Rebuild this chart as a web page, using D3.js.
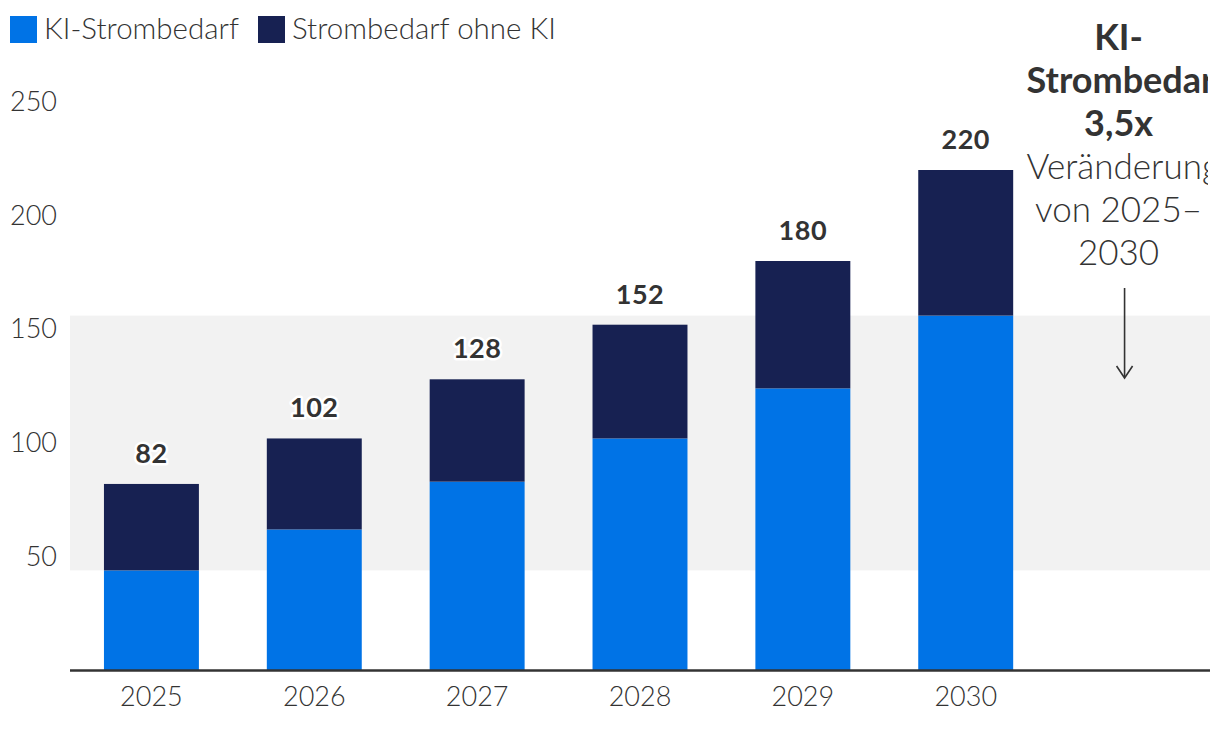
<!DOCTYPE html>
<html>
<head>
<meta charset="utf-8">
<script src="https://d3js.org/d3.v7.min.js"></script>
<style>
  body { margin: 0; background: #fff; }
  svg { display: block; font-family: Lato, "Noto Sans", sans-serif; }
</style>
</head>
<body>
<svg width="1220" height="732"></svg>
<script>
  // values
  var years = ["2025", "2026", "2027", "2028", "2029", "2030"];
  var kiDemand = [44, 62, 83, 102, 124, 156];
  var otherDemand = [38, 40, 45, 50, 56, 64];
  var yTicks = [50, 100, 150, 200, 250];
  var legendLabels = ["KI-Strombedarf", "Strombedarf ohne KI"];
  var noteLines = [
    { text: "KI-", bold: true },
    { text: "Strombedarf", bold: true },
    { text: "3,5x", bold: true },
    { text: "Veränderung", bold: false },
    { text: "von 2025–", bold: false },
    { text: "2030", bold: false }
  ];

  var colors = ["#0073e6", "#172152"];
  var textColor = "#333333";

  var svg = d3.select("svg");

  var rows = years.map(function (y, i) {
    return { year: y, ki: kiDemand[i], other: otherDemand[i] };
  });
  var stack = d3.stack().keys(["ki", "other"])(rows);

  var step = 1140 / 7;
  var x = d3.scaleBand()
    .domain(years)
    .range([70, 70 + step * 6])
    .paddingInner(0.417)
    .paddingOuter(0.2085);

  var y = d3.scaleLinear().domain([0, 250]).range([670.5, 101.75]);

  // grey band between KI demand 2025 and 2030
  svg.append("rect")
    .attr("x", 70)
    .attr("width", 1140)
    .attr("y", y(kiDemand[kiDemand.length - 1]))
    .attr("height", y(kiDemand[0]) - y(kiDemand[kiDemand.length - 1]))
    .attr("fill", "#f2f2f2");

  // bars
  svg.append("g").selectAll("g")
    .data(stack)
    .join("g")
    .attr("fill", function (d, i) { return colors[i]; })
    .selectAll("rect")
    .data(function (d) { return d; })
    .join("rect")
    .attr("x", function (d) { return x(d.data.year); })
    .attr("width", x.bandwidth())
    .attr("y", function (d) { return y(d[1]); })
    .attr("height", function (d) { return y(d[0]) - y(d[1]); });

  // totals
  svg.append("g").selectAll("text")
    .data(rows)
    .join("text")
    .attr("x", function (d) { return x(d.year) + x.bandwidth() / 2; })
    .attr("y", function (d) { return y(d.ki + d.other) - 21; })
    .attr("text-anchor", "middle")
    .attr("font-size", 27)
    .attr("font-weight", 700)
    .attr("letter-spacing", 0.5)
    .attr("fill", textColor)
    .attr("stroke", "#fff")
    .attr("stroke-width", 5)
    .attr("stroke-linejoin", "round")
    .attr("paint-order", "stroke")
    .text(function (d) { return d.ki + d.other; });

  // x axis
  var xAxis = svg.append("g")
    .attr("transform", "translate(0," + y(0) + ")")
    .call(d3.axisBottom(x).tickSize(0).tickPadding(16))
    .attr("font-family", null).attr("font-size", null);
  xAxis.select(".domain").remove();
  xAxis.append("line")
    .attr("x1", 70).attr("x2", 1210)
    .attr("stroke", textColor).attr("stroke-width", 2.5);
  xAxis.selectAll("text")
    .attr("font-size", 27).attr("font-weight", 300)
    .attr("fill", textColor)
    .attr("dy", "0.71em");

  // y axis
  var yAxis = svg.append("g")
    .attr("transform", "translate(57,0)")
    .call(d3.axisLeft(y).tickValues(yTicks).tickSize(0).tickPadding(0))
    .attr("font-family", null).attr("font-size", null);
  yAxis.select(".domain").remove();
  yAxis.selectAll("text")
    .attr("font-size", 27).attr("font-weight", 300)
    .attr("fill", textColor);

  // legend
  var legend = svg.append("g");
  var lx = 10;
  legendLabels.forEach(function (label, i) {
    legend.append("rect")
      .attr("x", lx).attr("y", 16)
      .attr("width", 27).attr("height", 27)
      .attr("fill", colors[i]);
    var t = legend.append("text")
      .attr("x", lx + 34).attr("y", 39)
      .attr("font-size", 29.5).attr("font-weight", 300)
      .attr("fill", textColor)
      .text(label);
    lx += 34 + t.node().getComputedTextLength() + 19;
  });

  // annotation on the right, clipped at the edge as in the original
  svg.append("clipPath").attr("id", "noteclip")
    .append("rect").attr("x", 1000).attr("y", 0).attr("width", 208).attr("height", 300);

  var cx = 70 + step * 6.5 - 10;
  var boxW = 188;
  var note = svg.append("g").attr("clip-path", "url(#noteclip)");
  noteLines.forEach(function (l, i) {
    var t = note.append("text")
      .attr("y", 50 + i * 43)
      .attr("font-size", l.bold ? 36 : 35)
      .attr("font-weight", l.bold ? 700 : 300)
      .attr("fill", textColor)
      .text(l.text);
    var w = t.node().getComputedTextLength();
    if (w > boxW) {
      t.attr("x", cx - boxW / 2 + 2).attr("text-anchor", "start");
    } else {
      t.attr("x", cx).attr("text-anchor", "middle");
    }
  });

  // arrow
  var ax = cx + 6;
  svg.append("line")
    .attr("x1", ax).attr("x2", ax)
    .attr("y1", 288).attr("y2", 377)
    .attr("stroke", textColor).attr("stroke-width", 1.6);
  svg.append("path")
    .attr("d", "M" + (ax - 8) + ",366 L" + ax + ",378 L" + (ax + 8) + ",366")
    .attr("fill", "none")
    .attr("stroke", textColor).attr("stroke-width", 1.6);
</script>
</body>
</html>
